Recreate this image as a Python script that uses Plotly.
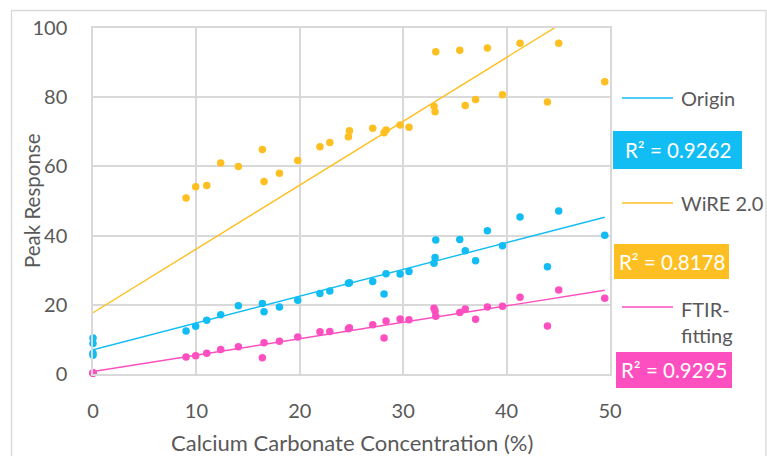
import plotly.graph_objects as go

# Calcium carbonate concentration (%) of each sample
concentration = [0, 0, 0, 0, 9.0, 9.93, 11.0, 12.35, 14.06, 16.38, 16.54, 18.03, 19.8,
                 21.95, 22.9, 24.7, 24.8, 27.05, 28.15, 28.34, 29.7, 30.56, 32.98,
                 33.08, 33.15, 35.47, 36.0, 37.0, 38.14, 39.6, 41.3, 43.95, 45.04, 49.49]

# Peak response per processing method
origin = [10.4, 8.8, 6.0, 5.4, 12.4, 13.8, 15.5, 17.1, 19.7, 20.4, 18.0, 19.4, 21.3,
          23.3, 24.0, 26.2, 26.4, 26.7, 23.1, 29.0, 28.9, 29.6, 32.0, 33.7, 38.7,
          38.9, 35.6, 32.7, 41.4, 37.1, 45.4, 31.0, 47.1, 40.1]
wire = [-0.3, -0.3, -0.3, -0.3, 50.9, 54.1, 54.5, 61.0, 60.0, 64.9, 55.6, 58.0, 61.7,
        65.7, 66.9, 68.6, 70.3, 71.0, 69.7, 70.5, 72.0, 71.3, 77.4, 75.8, 93.1,
        93.6, 77.6, 79.3, 94.2, 80.7, 95.6, 78.6, 95.6, 84.5]
ftir = [0.3, 0.3, 0.3, 0.3, 4.9, 5.3, 6.0, 7.1, 7.9, 4.7, 9.0, 9.5, 10.7,
        12.2, 12.3, 13.1, 13.4, 14.2, 10.4, 15.3, 15.9, 15.7, 19.0, 18.2, 16.7,
        17.8, 18.8, 15.8, 19.4, 19.6, 22.2, 13.9, 24.3, 21.9]

# Linear trendlines (intercept, slope) for each method
trend_intercepts = [7.0, 17.7, 0.7]
trend_slopes = [0.774, 1.845, 0.475]

series_names = ["Origin", "WiRE 2.0", "FTIR-<br>fitting"]
r2_labels = ["R² = 0.9262", "R² = 0.8178", "R² = 0.9295"]
x_ticks = [0, 10, 20, 30, 40, 50]
y_ticks = [0, 20, 40, 60, 80, 100]

colors = ["#12BDF4", "#FEBF22", "#FD4FBF"]
text_color = "#595959"
grid_color = "#D9D9D9"
font_family = "Lato"

fig = go.Figure()
x_max = max(concentration)
for values, color, b0, b1 in zip([origin, wire, ftir], colors, trend_intercepts, trend_slopes):
    fig.add_trace(go.Scatter(
        x=concentration, y=values, mode="markers", cliponaxis=False,
        marker=dict(size=7.5, color=color, line=dict(width=0)),
        showlegend=False, hoverinfo="x+y"))
    x_fit = [0.0, x_max]
    fig.add_trace(go.Scatter(
        x=x_fit, y=[b0 + b1 * xv for xv in x_fit], mode="lines",
        line=dict(color=color, width=1.4), showlegend=False, hoverinfo="skip"))

# plot-area geometry in pixels, used to place the side legend
L, R, T, B = 93, 610, 28, 374


def px_x(p):
    return (p - L) / (R - L)


def px_y(p):
    return (B - p) / (B - T)


shapes = []
annotations = []
# legend rows: line sample + name, then a coloured R² badge
legend_rows = [
    dict(line_y=98, label_y=98, box=(613, 742, 131, 169)),
    dict(line_y=203, label_y=203, box=(614, 729, 244, 279)),
    dict(line_y=307, label_y=322, box=(616, 732, 352, 388)),
]
for name, r2, color, row in zip(series_names, r2_labels, colors, legend_rows):
    shapes.append(dict(type="line", xref="paper", yref="paper",
                       x0=px_x(622), x1=px_x(673), y0=px_y(row["line_y"]), y1=px_y(row["line_y"]),
                       line=dict(color=color, width=1.4)))
    annotations.append(dict(xref="paper", yref="paper", x=px_x(679), y=px_y(row["label_y"]),
                            xanchor="left", yanchor="middle", text=name, showarrow=False,
                            align="left", font=dict(family=font_family, size=20, color=text_color)))
    x0, x1, y0, y1 = row["box"]
    shapes.append(dict(type="rect", xref="paper", yref="paper",
                       x0=px_x(x0), x1=px_x(x1), y0=px_y(y1), y1=px_y(y0),
                       fillcolor=color, line=dict(width=0), layer="above"))
    annotations.append(dict(xref="paper", yref="paper", x=px_x((x0 + x1) / 2), y=px_y((y0 + y1) / 2),
                            xanchor="center", yanchor="middle", text=r2, showarrow=False,
                            font=dict(family=font_family, size=20.5, color="white")))

# axis titles
annotations.append(dict(xref="paper", yref="paper", x=0.5, y=px_y(442), xanchor="center",
                        yanchor="middle", text="Calcium Carbonate Concentration (%)", showarrow=False,
                        font=dict(family=font_family, size=22, color=text_color)))
annotations.append(dict(xref="paper", yref="paper", x=px_x(32), y=0.5, xanchor="center",
                        yanchor="middle", text="Peak Response", textangle=-90, showarrow=False,
                        font=dict(family=font_family, size=20.5, color=text_color)))

# outer chart frame
shapes.append(dict(type="rect", xref="paper", yref="paper",
                   x0=px_x(11.5), x1=px_x(766), y0=px_y(470), y1=px_y(10.5),
                   line=dict(color=grid_color, width=1.3), layer="below"))

fig.update_layout(
    width=767, height=456,
    margin=dict(l=L, r=767 - R, t=T, b=456 - B, autoexpand=False),
    paper_bgcolor="white", plot_bgcolor="white",
    font=dict(family=font_family, color=text_color, size=20),
    shapes=shapes, annotations=annotations, showlegend=False,
)
fig.update_xaxes(range=[0, 50], tickvals=x_ticks, showgrid=True, gridcolor=grid_color, gridwidth=1.5,
                 showline=True, mirror=True, linecolor=grid_color, linewidth=1.5, zeroline=False,
                 ticks="", ticklabelstandoff=18, tickfont=dict(size=20, color=text_color))
fig.update_yaxes(range=[0, 100], tickvals=y_ticks, showgrid=True, gridcolor=grid_color, gridwidth=1.5,
                 showline=True, mirror=True, linecolor=grid_color, linewidth=1.5, zeroline=False,
                 ticks="", ticklabelstandoff=20, tickfont=dict(size=20, color=text_color))

fig.write_html("out.html")
